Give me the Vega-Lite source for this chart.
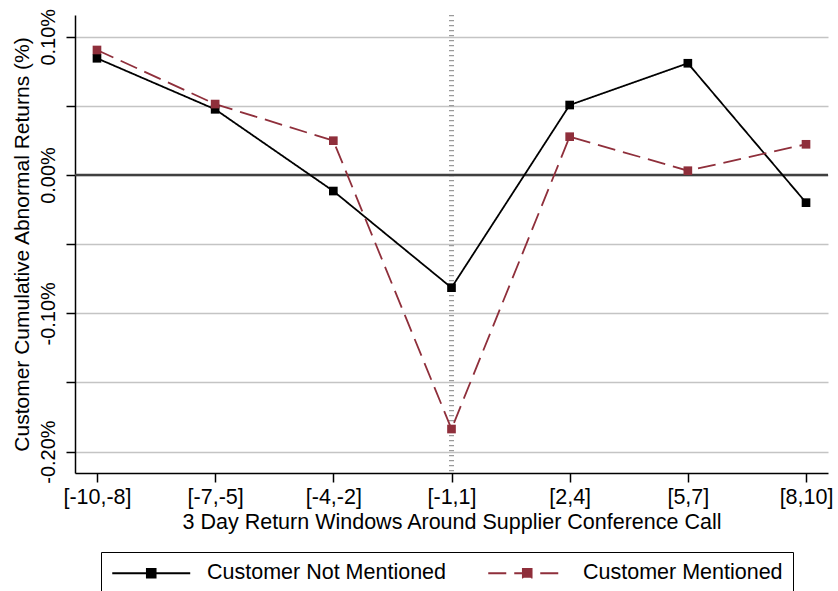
{
  "$schema": "https://vega.github.io/schema/vega-lite/v6.json",
  "width": 753,
  "height": 458,
  "autosize": {"type": "none"},
  "padding": {"left": 75, "top": 15, "right": 10, "bottom": 118},
  "background": "white",
  "config": {
    "view": {"stroke": null},
    "font": "Liberation Sans",
    "axis": {"labelFont": "Liberation Sans", "titleFont": "Liberation Sans", "labelColor": "black", "titleColor": "black", "titleFontWeight": "normal", "domainColor": "black", "tickColor": "black", "domainWidth": 1.5, "tickWidth": 1.5}
  },
  "datasets": {
    "series": [
      {"idx": 1, "group": "Customer Not Mentioned", "car": 0.0844},
      {"idx": 2, "group": "Customer Not Mentioned", "car": 0.0475},
      {"idx": 3, "group": "Customer Not Mentioned", "car": -0.0116},
      {"idx": 4, "group": "Customer Not Mentioned", "car": -0.0815},
      {"idx": 5, "group": "Customer Not Mentioned", "car": 0.0506},
      {"idx": 6, "group": "Customer Not Mentioned", "car": 0.0808},
      {"idx": 7, "group": "Customer Not Mentioned", "car": -0.0200},
      {"idx": 1, "group": "Customer Mentioned", "car": 0.0904},
      {"idx": 2, "group": "Customer Mentioned", "car": 0.0513},
      {"idx": 3, "group": "Customer Mentioned", "car": 0.0248},
      {"idx": 4, "group": "Customer Mentioned", "car": -0.1837},
      {"idx": 5, "group": "Customer Mentioned", "car": 0.0277},
      {"idx": 6, "group": "Customer Mentioned", "car": 0.0031},
      {"idx": 7, "group": "Customer Mentioned", "car": 0.0222}
    ]
  },
  "layer": [
    {
      "data": {"values": [{"idx": 4}]},
      "mark": {"type": "rule", "color": "#9a9a9a", "strokeWidth": 5, "strokeDash": [1.2, 3.8]},
      "encoding": {
        "x": {"field": "idx", "type": "quantitative", "scale": {"domain": [0.814, 7.186], "nice": false, "zero": false}}
      }
    },
    {
      "data": {"values": [{"zero": 0}]},
      "mark": {"type": "rule", "color": "#404040", "strokeWidth": 2.4},
      "encoding": {
        "y": {"field": "zero", "type": "quantitative", "scale": {"domain": [-0.2155, 0.1157], "nice": false, "zero": false}}
      }
    },
    {
      "data": {"name": "series"},
      "mark": {"type": "line", "strokeWidth": 1.8},
      "encoding": {
        "x": {
          "field": "idx", "type": "quantitative",
          "scale": {"domain": [0.814, 7.186], "nice": false, "zero": false},
          "axis": {
            "title": "3 Day Return Windows Around Supplier Conference Call",
            "titleFontSize": 21.5, "titlePadding": 4,
            "values": [1, 2, 3, 4, 5, 6, 7],
            "labelExpr": "['[-10,-8]','[-7,-5]','[-4,-2]','[-1,1]','[2,4]','[5,7]','[8,10]'][datum.value - 1]",
            "labelFontSize": 21.5, "labelPadding": 4, "tickSize": 9,
            "grid": false
          }
        },
        "y": {
          "field": "car", "type": "quantitative",
          "scale": {"domain": [-0.2155, 0.1157], "nice": false, "zero": false},
          "axis": {
            "title": "Customer Cumulative Abnormal Returns (%)",
            "titleFontSize": 21, "titlePadding": 6,
            "values": [-0.2, -0.15, -0.1, -0.05, 0, 0.05, 0.1],
            "labelExpr": "abs(datum.value*10 - round(datum.value*10)) < 0.01 ? (datum.value < 0 ? '-' : '') + format(abs(datum.value), '.2f') + '%' : ''",
            "labelAngle": -90, "labelAlign": "center", "labelBaseline": "bottom",
            "labelFontSize": 20, "labelPadding": 8, "tickSize": 9,
            "grid": true, "gridColor": "#c4c4c4", "gridWidth": 1.5
          }
        },
        "color": {
          "field": "group", "type": "nominal",
          "scale": {"domain": ["Customer Not Mentioned", "Customer Mentioned"], "range": ["#000000", "#8f2f3b"]},
          "legend": {
            "title": null, "orient": "none", "legendX": 26, "legendY": 537, "direction": "horizontal",
            "strokeColor": "black", "padding": 10, "columnPadding": 38,
            "labelFontSize": 21.5, "labelColor": "black", "labelFont": "Liberation Sans", "labelLimit": 400,
            "symbolType": "M-1,0L7,0M2.55,-0.45L3.45,-0.45L3.45,0.45L2.55,0.45Z",
            "symbolSize": 380, "symbolStrokeWidth": 1.8, "labelOffset": 74
          }
        },
        "strokeDash": {
          "field": "group", "type": "nominal",
          "scale": {"domain": ["Customer Not Mentioned", "Customer Mentioned"], "range": [[1, 0], [18, 8]]},
          "legend": null
        }
      }
    },
    {
      "data": {"name": "series"},
      "mark": {"type": "point", "shape": "square", "filled": true, "size": 75, "opacity": 1},
      "encoding": {
        "x": {"field": "idx", "type": "quantitative"},
        "y": {"field": "car", "type": "quantitative"},
        "color": {"field": "group", "type": "nominal", "legend": null}
      }
    }
  ]
}
